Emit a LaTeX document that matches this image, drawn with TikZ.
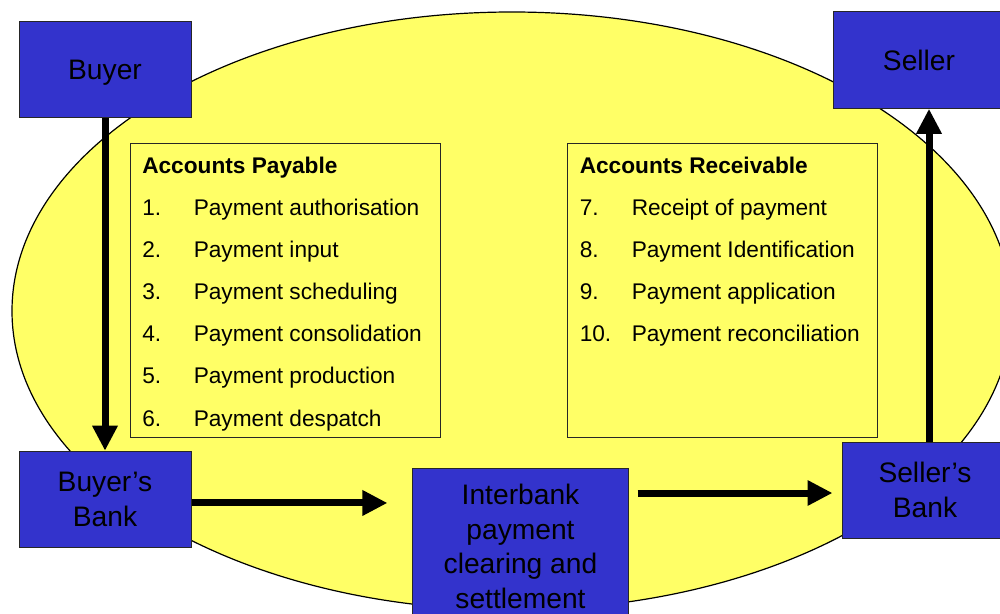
\documentclass[tikz,border=0pt]{standalone}
\usepackage{fontspec}
\setmainfont{Liberation Sans}
\usetikzlibrary{arrows.meta}

\definecolor{partyblue}{HTML}{3333CC}
\definecolor{cycleyellow}{HTML}{FFFF66}

\tikzset{
  party/.style={draw=black!85, line width=0.75pt, fill=partyblue, align=center,
    inner sep=0pt, font=\fontsize{21.15}{26}\selectfont},
  oneline/.style={text depth=0pt},
  listbox/.style={draw=black!85, line width=0.75pt, fill=cycleyellow, inner sep=0pt},
  listhead/.style={anchor=base west, inner sep=0pt, font=\fontsize{17}{20}\selectfont\bfseries},
  listitem/.style={anchor=base west, inner sep=0pt, font=\fontsize{17}{20}\selectfont},
  flow/.style={line width=5.25pt, -{Triangle[length=18.75pt,width=18pt]}},
}

\begin{document}
\begin{tikzpicture}[x=0.75pt,y=-0.75pt]
\useasboundingbox (0,0) rectangle (1000,614);

% payment cycle background
\draw[fill=cycleyellow, line width=0.9pt] (512,311) ellipse [x radius=500, y radius=299];

% parties
\node[party, oneline, minimum width=129pt, minimum height=72.4pt] (buyer) at (105,69.5) {Buyer};
\node[party, oneline, minimum width=129pt, minimum height=72.4pt] (seller) at (919,60) {Seller};
\node[party, minimum width=129pt, minimum height=72.4pt] (bbank) at (105,499.5) {Buyer’s\\Bank};
\node[party, minimum width=124.5pt, minimum height=72pt] (sbank) at (925,490) {Seller’s\\Bank};
\node[party, minimum width=161.3pt, minimum height=117.75pt] (ib) at (520.5,546.5)
  {Interbank\\payment\\clearing and\\settlement};

% accounts payable steps
\node[listbox, minimum width=232.5pt, minimum height=220.5pt] (ap) at (285,290) {};
\node[listhead] (aph) at (142,173) {Accounts Payable};
\foreach \n/\t [count=\i] in {1./Payment authorisation, 2./Payment input,
    3./Payment scheduling, 4./Payment consolidation, 5./Payment production,
    6./Payment despatch} {
  \node[listitem] (apn\i) at (142,{215+42.2*(\i-1)}) {\n};
  \node[listitem] (apt\i) at (193.5,{215+42.2*(\i-1)}) {\t};
}

% accounts receivable steps
\node[listbox, minimum width=232pt, minimum height=220pt] (ar) at (722.5,290.5) {};
\node[listhead] (arh) at (579.5,173) {Accounts Receivable};
\foreach \n/\t [count=\i] in {7./Receipt of payment, 8./Payment Identification,
    9./Payment application, 10./Payment reconciliation} {
  \node[listitem] (arn\i) at (579.5,{215+42.2*(\i-1)}) {\n};
  \node[listitem] (art\i) at (631.5,{215+42.2*(\i-1)}) {\t};
}

% payment flow
\draw[flow] (buyer.south) -- (bbank.north);

\coordinate (f1) at ([yshift=-2.6pt]bbank.east);
\draw[flow, shorten >=18.75pt] (f1) -- (f1 -| ib.west);

\coordinate (f2) at ([yshift=-2.25pt]sbank.west);
\draw[flow, shorten <=6.75pt, shorten >=6.75pt] (ib.east |- f2) -- (f2);

\coordinate (f3) at ([xshift=3pt]sbank.north);
\draw[flow] (f3) -- (f3 |- seller.south);
\end{tikzpicture}
\end{document}
